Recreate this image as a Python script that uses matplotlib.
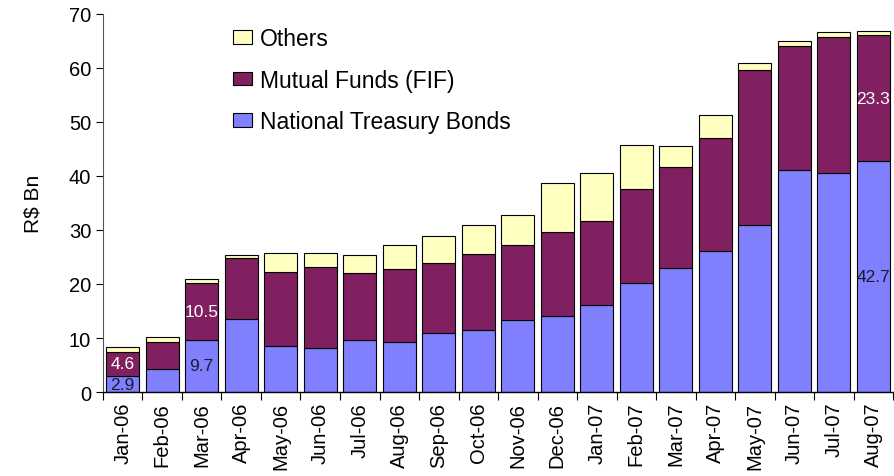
import matplotlib
matplotlib.use("Agg")
import matplotlib.pyplot as plt
import numpy as np

months = ["Jan-06", "Feb-06", "Mar-06", "Apr-06", "May-06", "Jun-06", "Jul-06",
          "Aug-06", "Sep-06", "Oct-06", "Nov-06", "Dec-06", "Jan-07", "Feb-07",
          "Mar-07", "Apr-07", "May-07", "Jun-07", "Jul-07", "Aug-07"]
bonds = [2.9, 4.3, 9.7, 13.6, 8.5, 8.1, 9.6, 9.3, 10.9, 11.4, 13.4, 14.0, 16.1,
         20.1, 22.9, 26.1, 31.0, 41.0, 40.6, 42.7]
funds = [4.6, 4.9, 10.5, 11.2, 13.8, 15.0, 12.4, 13.4, 12.9, 14.1, 13.8, 15.6, 15.5,
         17.4, 18.7, 20.9, 28.6, 23.0, 25.1, 23.3]
others = [0.8, 0.9, 0.7, 0.6, 3.4, 2.6, 3.3, 4.5, 5.0, 5.4, 5.5, 9.0, 9.0,
          8.2, 4.0, 4.2, 1.3, 0.9, 0.9, 0.9]
labelled = [0, 2, 19]

plt.rcParams['font.family'] = ['Liberation Sans', 'DejaVu Sans']

fig = plt.figure(figsize=(8.95, 4.77), dpi=100)
ax = fig.add_axes([0.115, 0.176, 0.883, 0.793])

x = np.arange(len(months))
b = np.array(bonds)
f = np.array(funds)
o = np.array(others)
w = 0.835
ec = dict(edgecolor="black", linewidth=0.8)
h1 = ax.bar(x, b, w, color="#8080FF", label="National Treasury Bonds", **ec)
h2 = ax.bar(x, f, w, bottom=b, color="#802060", label="Mutual Funds (FIF)", **ec)
h3 = ax.bar(x, o, w, bottom=b + f, color="#FFFFC0", label="Others", **ec)

for i in labelled:
    ax.text(x[i], b[i] / 2, f"{bonds[i]:.1f}", ha="center", va="center",
            color="#1a1a2e", fontsize=12.5)
    ax.text(x[i], b[i] + f[i] / 2, f"{funds[i]:.1f}", ha="center", va="center",
            color="white", fontsize=12.5)

ax.set_xlim(-0.5, len(months) - 0.5)
ax.set_ylim(0, 70)
ax.set_yticks(range(0, 71, 10))
ax.tick_params(axis="y", labelsize=14.5, direction="out", length=5, width=0.8)
ax.set_xticks(x)
ax.set_xticklabels(months, rotation=90, fontsize=14.5)
ax.tick_params(axis="x", which="major", length=0, pad=7)
ax.set_xticks(np.arange(-0.5, len(months) - 0.4, 1), minor=True)
ax.tick_params(axis="x", which="minor", length=6, width=0.8, direction="out")
ax.spines["top"].set_visible(False)
ax.spines["right"].set_visible(False)
ax.spines["left"].set_color("#555555")
ax.spines["bottom"].set_linewidth(1.0)
ax.set_ylabel("R\\$ Bn", fontsize=15)
ax.yaxis.set_label_coords(-0.077, 0.5)

leg = ax.legend([h3, h2, h1], ["Others", "Mutual Funds (FIF)", "National Treasury Bonds"],
                loc="upper left", bbox_to_anchor=(0.138, 1.02), frameon=False,
                fontsize=16.5, labelspacing=0.82, handlelength=0.85, handleheight=0.55,
                handletextpad=0.35)

fig.savefig("out.png", dpi=100)
